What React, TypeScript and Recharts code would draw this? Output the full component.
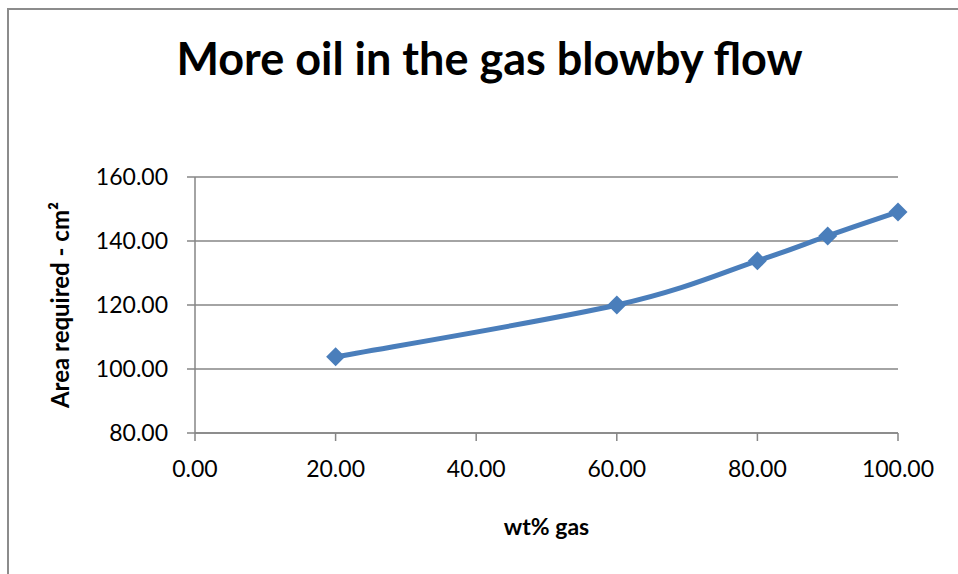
import { LineChart, Line, XAxis, YAxis, CartesianGrid } from "recharts";

const gasPct = [20, 60, 80, 90, 100];
const areaCm2 = [103.8, 120.0, 133.8, 141.6, 149.1];
const xTicks = [0, 20, 40, 60, 80, 100];
const yTicks = [80, 100, 120, 140, 160];

const rows = gasPct.map((g, i) => ({ gas: g, area: areaCm2[i] }));

const FONT = "Lato, 'Open Sans', sans-serif";
const AXIS = "#868686";
const BLUE = "#4a7ebb";

// Excel-style smoothed line (Catmull-Rom through the points, endpoints doubled)
function excelSmooth(context: any) {
  let pts: number[][] = [];
  return {
    areaStart() {},
    areaEnd() {},
    lineStart() {
      pts = [];
    },
    point(x: number, y: number) {
      pts.push([+x, +y]);
    },
    lineEnd() {
      if (!pts.length) return;
      context.moveTo(pts[0][0], pts[0][1]);
      for (let i = 0; i < pts.length - 1; i++) {
        const p0 = pts[i - 1] || pts[i];
        const p1 = pts[i];
        const p2 = pts[i + 1];
        const p3 = pts[i + 2] || pts[i + 1];
        context.bezierCurveTo(
          p1[0] + (p2[0] - p0[0]) / 6,
          p1[1] + (p2[1] - p0[1]) / 6,
          p2[0] - (p3[0] - p1[0]) / 6,
          p2[1] - (p3[1] - p1[1]) / 6,
          p2[0],
          p2[1]
        );
      }
    },
  };
}

function Diamond(props: any) {
  const { cx, cy } = props;
  if (cx == null || cy == null) return null;
  const r = 9.5;
  return (
    <path
      d={`M${cx},${cy - r} L${cx + r},${cy} L${cx},${cy + r} L${cx - r},${cy} Z`}
      fill={BLUE}
    />
  );
}

export default function App() {
  return (
    <div
      style={{
        position: "fixed",
        left: 0,
        top: 0,
        width: 958,
        height: 574,
        background: "#fff",
        fontFamily: FONT,
      }}
    >
      <div
        style={{
          position: "absolute",
          left: 7,
          top: 8,
          width: 960,
          height: 580,
          borderLeft: "2px solid #8c8c8c",
          borderTop: "2px solid #8c8c8c",
        }}
      />
      <div
        style={{
          position: "absolute",
          left: 0,
          width: 979,
          top: 31,
          textAlign: "center",
          fontSize: 45,
          fontWeight: 700,
          color: "#000",
        }}
      >
        More oil in the gas blowby flow
      </div>
      <div style={{ position: "absolute", left: 0, top: 0 }}>
        <LineChart
          width={958}
          height={574}
          data={rows}
          margin={{ top: 177, right: 60, bottom: 0, left: 0 }}
        >
          <CartesianGrid vertical={false} stroke={AXIS} strokeWidth={1.5} />
          <XAxis
            dataKey="gas"
            type="number"
            domain={[0, 100]}
            ticks={xTicks}
            tickFormatter={(v: number) => v.toFixed(2)}
            height={141}
            stroke={AXIS}
            strokeWidth={1.5}
            tickSize={8}
            tick={{ fill: "#000", fontSize: 23, fontFamily: FONT, dy: 18 }}
            label={{
              value: "wt% gas",
              position: "insideTop",
              offset: 86,
              style: { fill: "#000", fontSize: 23, fontWeight: 700, fontFamily: FONT },
            }}
          />
          <YAxis
            type="number"
            domain={[80, 160]}
            ticks={yTicks}
            tickFormatter={(v: number) => v.toFixed(2)}
            width={195}
            stroke={AXIS}
            strokeWidth={1.5}
            tickSize={8}
            tick={{ fill: "#000", fontSize: 23, fontFamily: FONT, dx: -17 }}
            label={{
              value: "Area required - cm²",
              angle: -90,
              position: "insideLeft",
              offset: 60,
              style: {
                fill: "#000",
                fontSize: 24,
                fontWeight: 700,
                fontFamily: FONT,
                textAnchor: "middle",
              },
            }}
          />
          <Line
            type={excelSmooth as any}
            dataKey="area"
            stroke={BLUE}
            strokeWidth={5}
            dot={<Diamond />}
            activeDot={false}
            isAnimationActive={false}
          />
        </LineChart>
      </div>
    </div>
  );
}
